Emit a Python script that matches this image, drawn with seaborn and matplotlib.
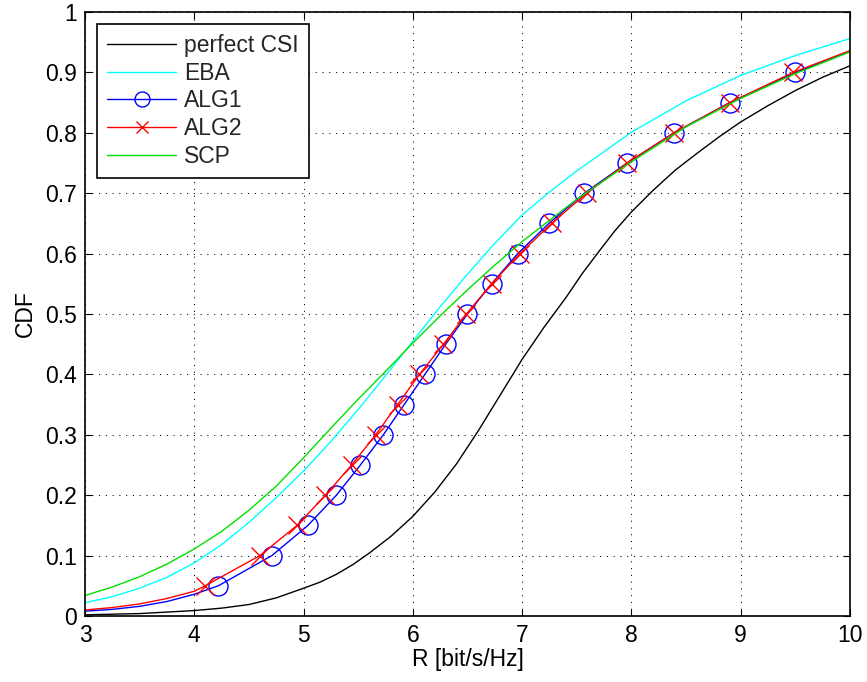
import numpy as np
import pandas as pd
import matplotlib
matplotlib.use("Agg")
import matplotlib.pyplot as plt
from matplotlib.lines import Line2D
import seaborn as sns

# ---------------- data ----------------
series_names = ["perfect CSI", "EBA", "ALG1", "ALG2", "SCP"]

r_perfect = [3.0, 3.5, 4.0, 4.25, 4.5, 4.75, 5.0, 5.15, 5.3, 5.45, 5.6, 5.8, 6.0,
             6.2, 6.4, 6.6, 6.8, 7.0, 7.2, 7.4, 7.55, 7.7, 7.85, 8.0, 8.2, 8.4,
             8.6, 8.8, 9.0, 9.25, 9.5, 9.75, 10.0]
cdf_perfect = [0.002, 0.004, 0.009, 0.013, 0.019, 0.030, 0.046, 0.056, 0.069,
               0.085, 0.104, 0.132, 0.165, 0.205, 0.252, 0.307, 0.366, 0.425,
               0.478, 0.527, 0.567, 0.603, 0.638, 0.669, 0.705, 0.738, 0.766,
               0.793, 0.818, 0.845, 0.870, 0.892, 0.911]

r_eba = [3.0, 3.25, 3.5, 3.75, 4.0, 4.25, 4.5, 4.75, 5.0, 5.25, 5.5, 5.75, 6.0,
         6.25, 6.5, 6.75, 7.0, 7.25, 7.5, 8.0, 8.5, 9.0, 9.5, 10.0]
cdf_eba = [0.022, 0.032, 0.046, 0.064, 0.088, 0.118, 0.155, 0.196, 0.240,
           0.289, 0.342, 0.398, 0.455, 0.512, 0.566, 0.617, 0.664, 0.702,
           0.737, 0.801, 0.853, 0.895, 0.928, 0.956]

r_scp = [3.0, 3.25, 3.5, 3.75, 4.0, 4.25, 4.5, 4.75, 5.0, 5.25, 5.5, 5.75, 6.0,
         6.25, 6.5, 6.75, 7.0, 7.5, 8.0, 8.5, 9.0, 9.5, 10.0]
cdf_scp = [0.034, 0.048, 0.065, 0.086, 0.111, 0.140, 0.175, 0.215, 0.262,
           0.311, 0.359, 0.405, 0.452, 0.497, 0.540, 0.581, 0.620, 0.690,
           0.752, 0.810, 0.857, 0.898, 0.934]

# ALG1 / ALG2: tail points, then the marked CDF levels, then the end point
cdf_levels = [0.05, 0.10, 0.15, 0.20, 0.25, 0.30, 0.35, 0.40, 0.45,
              0.50, 0.55, 0.60, 0.65, 0.70, 0.75, 0.80, 0.85, 0.90]
r_alg1_marks = [4.22, 4.71, 5.04, 5.30, 5.52, 5.73, 5.92, 6.11, 6.30,
                6.50, 6.72, 6.96, 7.245, 7.57, 7.96, 8.39, 8.90, 9.50]
r_alg2_marks = [4.10, 4.60, 4.94, 5.20, 5.44, 5.66, 5.86, 6.06, 6.28,
                6.49, 6.72, 6.98, 7.27, 7.59, 7.96, 8.39, 8.90, 9.48]
r_alg1_tail = [3.0, 3.25, 3.5, 3.75, 4.0]
cdf_alg1_tail = [0.008, 0.011, 0.016, 0.024, 0.036]
r_alg2_tail = [3.0, 3.25, 3.5, 3.75, 4.0]
cdf_alg2_tail = [0.010, 0.014, 0.020, 0.029, 0.041]
r_end = [10.0]
cdf_alg1_end = [0.935]
cdf_alg2_end = [0.936]

x_ticks = [3, 4, 5, 6, 7, 8, 9, 10]
y_ticks = [0, 0.1, 0.2, 0.3, 0.4, 0.5, 0.6, 0.7, 0.8, 0.9, 1.0]
y_tick_labels = ["0", "0.1", "0.2", "0.3", "0.4", "0.5", "0.6", "0.7", "0.8", "0.9", "1"]

# ---------------- styling ----------------
sns.set_theme(style="white")
plt.rcParams["font.family"] = ["Liberation Sans", "DejaVu Sans"]
FS = 16.5

colors = {"perfect CSI": "#000000", "EBA": "#00ffff", "ALG1": "#0000ff",
          "ALG2": "#ff0000", "SCP": "#00e000"}

fig = plt.figure(figsize=(8.67, 6.82), dpi=100)
ax = fig.add_axes([85 / 867, 66 / 682, 765 / 867, 604 / 682])

lw = 1.0
df_perfect = pd.DataFrame({"R": r_perfect, "CDF": cdf_perfect})
df_eba = pd.DataFrame({"R": r_eba, "CDF": cdf_eba})
df_scp = pd.DataFrame({"R": r_scp, "CDF": cdf_scp})
df_alg1 = pd.DataFrame({"R": r_alg1_tail + r_alg1_marks + r_end,
                        "CDF": cdf_alg1_tail + cdf_levels + cdf_alg1_end})
df_alg2 = pd.DataFrame({"R": r_alg2_tail + r_alg2_marks + r_end,
                        "CDF": cdf_alg2_tail + cdf_levels + cdf_alg2_end})

mark_idx = list(range(len(r_alg1_tail), len(r_alg1_tail) + len(cdf_levels)))

sns.lineplot(data=df_perfect, x="R", y="CDF", ax=ax, color=colors["perfect CSI"],
             lw=lw, estimator=None, sort=False, legend=False)
sns.lineplot(data=df_eba, x="R", y="CDF", ax=ax, color=colors["EBA"],
             lw=lw, estimator=None, sort=False, legend=False)
sns.lineplot(data=df_alg1, x="R", y="CDF", ax=ax, color=colors["ALG1"],
             lw=lw, estimator=None, sort=False, legend=False,
             marker="o", markevery=mark_idx, markersize=13.7,
             markerfacecolor="none", markeredgecolor=colors["ALG1"], markeredgewidth=1.0)
sns.lineplot(data=df_alg2, x="R", y="CDF", ax=ax, color=colors["ALG2"],
             lw=lw, estimator=None, sort=False, legend=False,
             marker="x", markevery=mark_idx, markersize=13,
             markeredgecolor=colors["ALG2"], markeredgewidth=1.0)
sns.lineplot(data=df_scp, x="R", y="CDF", ax=ax, color=colors["SCP"],
             lw=lw, estimator=None, sort=False, legend=False)

ax.set_xlim(3, 10)
ax.set_ylim(0, 1)
ax.set_xticks(x_ticks)
ax.set_xticklabels([str(t) for t in x_ticks])
ax.set_yticks(y_ticks)
ax.set_yticklabels(y_tick_labels)
ax.tick_params(axis="both", which="both", direction="in", length=5, width=0.8,
               top=True, right=True, bottom=True, left=True,
               labelsize=FS, pad=5.5, colors="black")
ax.set_xlabel("R [bit/s/Hz]", fontsize=FS, labelpad=1, color="black")
ax.set_ylabel("CDF", fontsize=FS, labelpad=6, color="black")

ax.grid(True, color="black", linewidth=0.75, linestyle=(0, (1, 5.5)))
for s in ax.spines.values():
    s.set_visible(True)
    s.set_color("black")
    s.set_linewidth(1.2)

handles = [
    Line2D([], [], color=colors["perfect CSI"], lw=lw),
    Line2D([], [], color=colors["EBA"], lw=lw),
    Line2D([], [], color=colors["ALG1"], lw=lw, marker="o", markersize=10.8,
           markerfacecolor="none", markeredgewidth=1.0),
    Line2D([], [], color=colors["ALG2"], lw=lw, marker="x", markersize=9,
           markeredgewidth=1.0),
    Line2D([], [], color=colors["SCP"], lw=lw),
]
leg = ax.legend(handles, series_names, loc="upper left",
                bbox_to_anchor=((97 - 85) / 765, 1 - (24 - 12) / 604),
                borderaxespad=0, fontsize=FS, frameon=True, fancybox=False,
                shadow=False, framealpha=1, edgecolor="black",
                handlelength=3.0, handletextpad=0.36, labelspacing=0.2,
                borderpad=0.45, numpoints=1)
leg.get_frame().set_linewidth(1.2)

fig.savefig("out.png", dpi=100)
